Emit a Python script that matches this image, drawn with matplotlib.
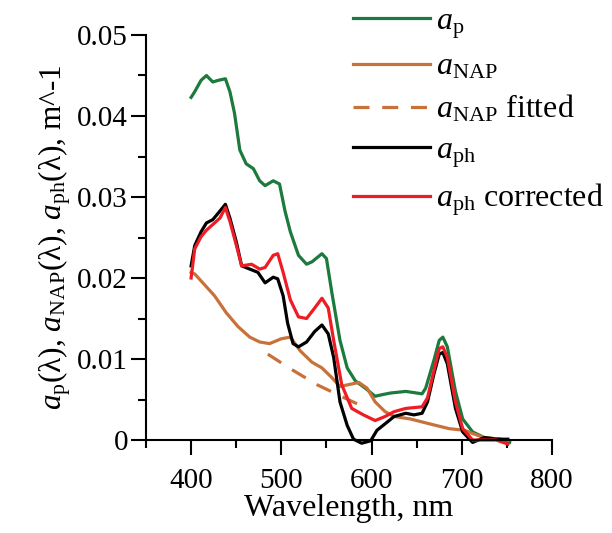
import numpy as np
import matplotlib
matplotlib.use('Agg')
import matplotlib.pyplot as plt
from matplotlib.ticker import MultipleLocator

plt.rcParams['font.family'] = ['Liberation Serif', 'DejaVu Serif']
plt.rcParams['mathtext.fontset'] = 'custom'
plt.rcParams['mathtext.rm'] = 'Liberation Serif'
plt.rcParams['mathtext.it'] = 'Liberation Serif:italic'

# a_p (green)
ap_wl = [400, 404, 411, 417, 424, 430, 438, 443, 448, 454, 461, 469, 476, 482, 491, 498,
         504, 510, 519, 528, 534, 545, 550, 556, 565, 573, 582, 593, 604, 612, 621, 638,
         656, 660, 669, 675, 679, 684, 693, 701, 712, 725, 742, 753]
ap_val = [0.0423, 0.0430, 0.0444, 0.0450, 0.0442, 0.0444, 0.0446, 0.0430, 0.0404, 0.0358,
          0.0341, 0.0335, 0.0320, 0.0314, 0.0320, 0.0316, 0.0283, 0.0257, 0.0228, 0.0217,
          0.0220, 0.0230, 0.0224, 0.0182, 0.0123, 0.0089, 0.0073, 0.0064, 0.0054, 0.0056,
          0.0058, 0.0060, 0.0057, 0.0064, 0.0098, 0.0123, 0.0127, 0.0115, 0.0060, 0.0026,
          0.0010, 0.0003, 0.0001, -0.0003]

# a_NAP (orange)
nap_wl = [400, 404, 413, 426, 439, 452, 465, 476, 487, 500, 510, 521, 534, 545, 556, 565,
          573, 586, 595, 604, 615, 625, 643, 664, 686, 703, 712, 725, 742, 751]
nap_val = [0.0207, 0.0205, 0.0194, 0.0178, 0.0157, 0.0140, 0.0127, 0.0121, 0.0119, 0.0125,
           0.0127, 0.0110, 0.0096, 0.0089, 0.0077, 0.0066, 0.0068, 0.0071, 0.0064, 0.0047,
           0.0035, 0.0029, 0.0026, 0.0020, 0.0014, 0.0012, 0.0008, 0.0003, 0.0001, 0.0000]

# a_NAP fitted (orange dashed)
fit_wl = [485, 510, 540, 570, 595]
fit_val = [0.0106, 0.0088, 0.0068, 0.0052, 0.0039]

# a_ph (black)
ph_wl = [400, 404, 411, 417, 424, 430, 438, 443, 450, 456, 465, 474, 482, 491, 496, 502,
         507, 513, 519, 528, 537, 545, 552, 558, 565, 573, 580, 589, 599, 606, 615, 625,
         638, 647, 656, 662, 669, 675, 679, 684, 693, 701, 712, 725, 738, 751]
ph_val = [0.0215, 0.0240, 0.0257, 0.0268, 0.0272, 0.0280, 0.0291, 0.0274, 0.0245, 0.0215,
          0.0211, 0.0207, 0.0194, 0.0201, 0.0199, 0.0178, 0.0144, 0.0119, 0.0115, 0.0121,
          0.0134, 0.0142, 0.0131, 0.0102, 0.0047, 0.0018, 0.0001, -0.0004, -0.0001, 0.0012,
          0.0020, 0.0029, 0.0033, 0.0031, 0.0033, 0.0047, 0.0081, 0.0106, 0.0108, 0.0094,
          0.0039, 0.0010, -0.0003, 0.0003, 0.0001, 0.0001]

# a_ph corrected (red)
phc_wl = [400, 404, 411, 417, 426, 432, 438, 443, 450, 456, 467, 476, 482, 491, 496, 502,
          510, 519, 528, 537, 545, 552, 558, 567, 578, 591, 604, 615, 625, 638, 656, 662,
          669, 675, 679, 684, 693, 701, 712, 725, 738, 751]
phc_val = [0.0200, 0.0236, 0.0251, 0.0259, 0.0268, 0.0274, 0.0287, 0.0270, 0.0241, 0.0215,
           0.0217, 0.0211, 0.0213, 0.0228, 0.0230, 0.0207, 0.0173, 0.0152, 0.0150, 0.0163,
           0.0175, 0.0163, 0.0123, 0.0068, 0.0039, 0.0031, 0.0024, 0.0029, 0.0035, 0.0039,
           0.0041, 0.0052, 0.0085, 0.0113, 0.0115, 0.0102, 0.0047, 0.0014, 0.0000, 0.0000,
           0.0000, -0.0005]

yticks = [0, 0.01, 0.02, 0.03, 0.04, 0.05]
ytick_labels = ['0', '0.01', '0.02', '0.03', '0.04', '0.05']
xticks = [400, 500, 600, 700, 800]

fig = plt.figure(figsize=(6.12, 5.33), dpi=100)
ax = fig.add_axes([146 / 612, 93 / 533, 406 / 612, 405 / 533])

lw = 2.3
ax.plot(ap_wl, ap_val, color='#1b7a3c', lw=lw, label=r'$a_\mathrm{p}$', clip_on=False)
ax.plot(nap_wl, nap_val, color='#c8713a', lw=lw, label=r'$a_\mathrm{NAP}$', clip_on=False)
ax.plot(fit_wl, fit_val, color='#c8713a', lw=lw, ls=(0, (5, 4)), label=r'$a_\mathrm{NAP}$ fitted')
ax.plot(ph_wl, ph_val, color='black', lw=lw, label=r'$a_\mathrm{ph}$', clip_on=False)
ax.plot(phc_wl, phc_val, color='#ee1c24', lw=lw, label=r'$a_\mathrm{ph}$ corrected', clip_on=False)

ax.set_xlim(350, 800)
ax.set_ylim(0, 0.05)
ax.set_xticks(xticks)
ax.xaxis.set_minor_locator(MultipleLocator(50))
ax.set_yticks(yticks)
ax.set_yticklabels(ytick_labels)
ax.yaxis.set_minor_locator(MultipleLocator(0.005))

for s in ['top', 'right']:
    ax.spines[s].set_visible(False)
for s in ['left', 'bottom']:
    ax.spines[s].set_linewidth(1.5)

ax.tick_params(which='major', direction='out', length=11, width=1.5, labelsize=21)
ax.tick_params(which='minor', direction='out', length=5.5, width=1.5)
ax.tick_params(axis='x', which='major', pad=9)
ax.tick_params(axis='y', which='major', pad=2)

ax.set_xlabel('Wavelength, nm', fontsize=23, labelpad=0)
ax.set_ylabel(r'$a_\mathrm{p}$(λ), $a_\mathrm{NAP}$(λ), $a_\mathrm{ph}$(λ), m^-1', fontsize=22.5, labelpad=3)

ax.legend(loc='upper left', bbox_to_anchor=(353 / 612, 1 - 7 / 533), bbox_transform=fig.transFigure,
          frameon=False, fontsize=23, handlelength=2.4, handletextpad=0.2,
          borderpad=0, borderaxespad=0, labelspacing=0.36)

fig.savefig('out.png', dpi=100)
